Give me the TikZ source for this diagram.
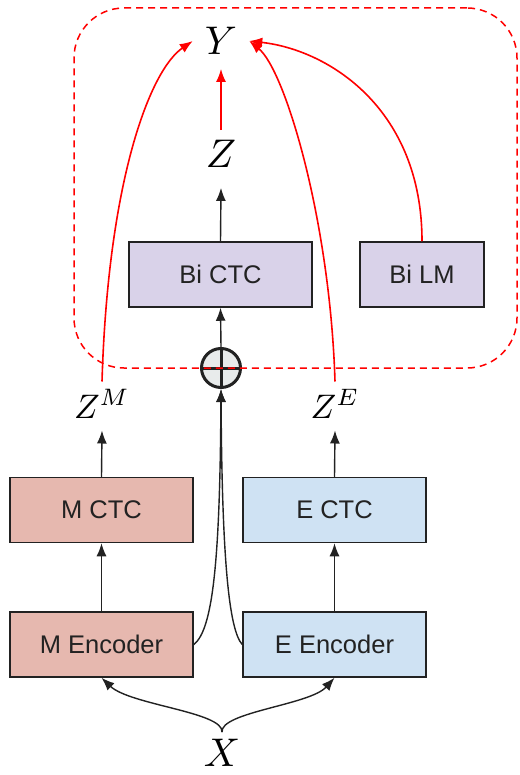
\documentclass[tikz,border=0pt]{standalone}
\usepackage{graphicx}
\usepackage{fontspec}
\setmainfont{Liberation Sans}
\usetikzlibrary{arrows.meta}
\definecolor{mfill}{HTML}{E6B8AF}
\definecolor{efill}{HTML}{CFE2F3}
\definecolor{bfill}{HTML}{D9D2E9}
\definecolor{ink}{HTML}{222222}
\definecolor{opfill}{HTML}{E8EBEB}
\definecolor{redline}{HTML}{FF0000}
\newcommand{\bigmath}[1]{\scalebox{4}{$#1$}}
\newcommand{\midmath}[1]{\scalebox{3.4}{$#1$}}
\tikzset{
  box/.style={draw=ink, line width=1.5pt, minimum width=183pt, minimum height=65pt, inner sep=0pt, text=ink, font=\fontsize{25.5}{28}\selectfont},
  mathlbl/.style={inner sep=0pt},
  arr/.style={draw=ink, line width=1.4pt, -{Latex[length=13pt,width=10pt]}},
  rarr/.style={draw=redline, line width=1.6pt, -{Latex[length=13pt,width=10pt]}},
  frame/.style={draw=redline, line width=1.5pt, dash pattern=on 7pt off 5pt, rounded corners=50pt, minimum width=443pt, minimum height=360pt, inner sep=0pt}
}
\begin{document}
\begin{tikzpicture}[x=1pt,y=-1pt]
\useasboundingbox (0,0) rectangle (519,775);
% boxes
\node[box, fill=bfill] (bictc) at (220.5,274.5) {Bi CTC};
\node[box, fill=bfill, minimum width=124pt] (bilm) at (422,274.5) {Bi LM};
\node[box, fill=mfill] (mctc) at (101.5,510) {M CTC};
\node[box, fill=efill] (ectc) at (334.5,510) {E CTC};
\node[box, fill=mfill] (menc) at (101.5,644.5) {M Encoder};
\node[box, fill=efill] (eenc) at (334.5,644.5) {E Encoder};
% labels
\node[mathlbl, inner xsep=12pt] (y) at (221,41) {\bigmath{Y}};
\node[mathlbl] (z) at (221,154) {\bigmath{Z}};
\node[mathlbl] (zm) at (102,404) {\midmath{Z^M}};
\node[mathlbl] (ze) at (335,404) {\midmath{Z^E}};
\node[mathlbl, inner ysep=7pt] (x) at (222,753) {\bigmath{X}};
% oplus
\node[circle, draw=ink, fill=opfill, line width=3pt, minimum size=39pt, inner sep=0pt] (op) at (221,368) {};
\draw[draw=ink, line width=3pt] (op.north) -- (op.south) (op.west) -- (op.east);
% black arrows
\draw[arr] (bictc.north) -- ([yshift=-20pt]z.south);
\draw[arr] (op.north) -- (bictc.south);
\draw[arr] (mctc.north) -- ([yshift=-12pt]zm.south);
\draw[arr] (ectc.north) -- ([yshift=-12pt]ze.south);
\draw[arr] (menc.north) -- (mctc.south);
\draw[arr] (eenc.north) -- (ectc.south);
\draw[arr] (menc.east) .. controls (213,630) and (220,560) .. (op.south);
\draw[arr] (eenc.west) .. controls (229,630) and (222,560) .. (op.south);
\draw[arr] (x.north) .. controls (224,712) and (130,705) .. (menc.south);
\draw[arr] (x.north) .. controls (220,712) and (310,705) .. (eenc.south);
% red arrows
\draw[rarr] ([yshift=10pt]z.north) -- ([yshift=-14pt]y.south);
\draw[rarr] ([yshift=8pt]zm.north) .. controls (108,180) and (150,70) .. (y.west);
\draw[rarr] ([yshift=8pt]ze.north) .. controls (330,220) and (285,70) .. (y.east);
\draw[rarr] (bilm.north) .. controls (422,110) and (330,50) .. (y.east);
% dashed frame
\node[frame] (fr) at (295.5,188) {};
\end{tikzpicture}
\end{document}
